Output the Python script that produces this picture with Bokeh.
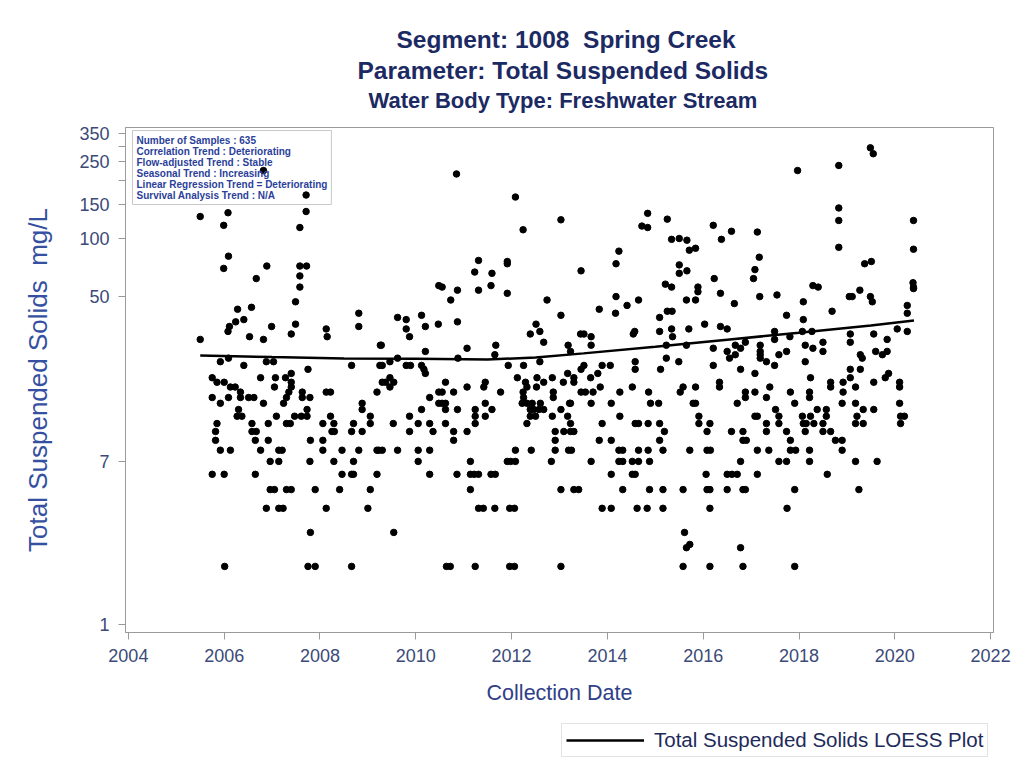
from bokeh.plotting import figure
from bokeh.layouts import column
from bokeh.models import Range1d, FixedTicker, PrintfTickFormatter, Label, Legend, LegendItem, Title
from bokeh.embed import file_html
from bokeh.resources import INLINE

# ---- data (decimal year, mg/L) ----
tss_levels = [2, 2.5, 2.6, 3, 4, 5, 6, 7, 8, 9, 10, 11, 12, 13, 14, 15, 16, 17, 18, 19, 20,
              21, 22, 23, 24, 25, 26, 27, 28, 29, 30, 31, 32, 33, 34, 35, 36, 37, 38, 39, 40,
              41, 42, 43, 44, 45, 46, 47, 48, 50, 51, 52, 53, 54, 55, 56, 57, 58, 59, 62, 64,
              66, 67, 68, 69, 70, 72, 73, 74, 76, 77, 80, 81, 86, 87, 88, 89, 90, 98, 99, 100,
              108, 109, 111, 114, 116, 117, 124, 125, 126, 130, 135, 136, 138, 144, 164, 168,
              216, 225, 239, 275, 295]

years_by_level = [
    [2006.01, 2007.75, 2007.90, 2008.66, 2010.64, 2010.72, 2011.24, 2011.96, 2012.06, 2013.03, 2015.58, 2016.14, 2016.83, 2017.91],
    [2015.65, 2016.78],
    [2015.72],
    [2007.80, 2009.54, 2015.61],
    [2006.88, 2007.14, 2007.23, 2008.13, 2009.00, 2011.31, 2011.41, 2011.65, 2011.96, 2012.06, 2013.89, 2014.08, 2014.62, 2014.83, 2015.16, 2016.14, 2017.75],
    [2006.96, 2007.05, 2007.30, 2007.40, 2007.90, 2008.41, 2009.05, 2011.14, 2013.03, 2013.30, 2013.40, 2014.32, 2014.88, 2015.16, 2015.58, 2016.08, 2016.14, 2016.50, 2016.83, 2016.88, 2017.91, 2019.25],
    [2005.75, 2006.00, 2006.65, 2008.46, 2008.66, 2008.70, 2009.19, 2010.29, 2010.86, 2011.14, 2011.22, 2011.31, 2011.57, 2011.66, 2014.08, 2014.52, 2014.58, 2016.06, 2016.50, 2016.60, 2016.71, 2017.13, 2018.59],
    [2006.96, 2007.14, 2007.79, 2008.29, 2008.70, 2010.05, 2011.14, 2011.91, 2011.98, 2012.08, 2012.83, 2013.66, 2014.24, 2014.32, 2014.52, 2014.65, 2014.88, 2016.78, 2017.58, 2017.74, 2018.22, 2019.18, 2019.63],
    [2005.92, 2006.13, 2006.76, 2007.14, 2007.21, 2008.06, 2008.46, 2008.81, 2009.19, 2009.23, 2009.30, 2009.62, 2010.05, 2010.29, 2012.08, 2012.41, 2012.91, 2013.19, 2013.25, 2014.24, 2014.32, 2014.65, 2014.85, 2015.16, 2015.72, 2016.08, 2016.15, 2017.13, 2017.37, 2017.82, 2017.93, 2018.22, 2018.90],
    [2005.82, 2006.65, 2006.92, 2007.80, 2008.06, 2010.79, 2012.91, 2013.83, 2014.08, 2015.09, 2016.83, 2016.90, 2017.82, 2018.76, 2018.90],
    [2005.82, 2006.58, 2006.67, 2008.25, 2008.30, 2008.66, 2008.88, 2009.87, 2010.36, 2010.79, 2011.07, 2012.91, 2013.09, 2013.23, 2013.30, 2015.19, 2016.08, 2016.59, 2016.83, 2017.32, 2017.74, 2018.13, 2018.50, 2018.66],
    [2005.85, 2006.58, 2006.92, 2007.30, 2007.38, 2008.06, 2008.29, 2008.70, 2009.05, 2009.53, 2010.05, 2010.29, 2010.62, 2011.24, 2012.32, 2013.23, 2013.89, 2014.58, 2014.65, 2014.85, 2015.09, 2015.91, 2016.14, 2017.32, 2017.58, 2018.09, 2018.15, 2018.31, 2018.50, 2019.18, 2019.34, 2020.12],
    [2006.27, 2006.37, 2007.09, 2007.47, 2007.61, 2007.73, 2008.22, 2009.05, 2009.87, 2011.24, 2011.45, 2012.39, 2012.50, 2012.85, 2013.17, 2014.26, 2015.91, 2017.08, 2017.13, 2017.58, 2018.07, 2018.24, 2018.57, 2019.21, 2020.12, 2020.20],
    [2006.30, 2007.73, 2008.88, 2010.12, 2010.62, 2010.87, 2011.24, 2011.59, 2012.39, 2012.46, 2012.57, 2012.67, 2013.03, 2017.51, 2018.38, 2018.57, 2019.34, 2019.56],
    [2005.92, 2006.82, 2007.24, 2008.88, 2010.48, 2010.55, 2010.62, 2011.45, 2012.22, 2012.32, 2012.43, 2012.60, 2013.21, 2013.23, 2013.66, 2014.08, 2014.90, 2015.07, 2015.79, 2015.84, 2016.71, 2017.91, 2018.90, 2019.18, 2020.10],
    [2005.75, 2006.09, 2006.34, 2006.51, 2006.62, 2007.30, 2007.63, 2007.79, 2010.29, 2012.25, 2012.87, 2016.88, 2017.32, 2018.22],
    [2006.34, 2007.35, 2007.63, 2008.13, 2008.22, 2009.19, 2010.48, 2010.55, 2010.79, 2011.77, 2012.24, 2012.87, 2013.45, 2013.54, 2013.70, 2014.26, 2014.86, 2015.52, 2016.88, 2017.08, 2017.82, 2018.22, 2018.92],
    [2006.13, 2006.23, 2007.05, 2007.40, 2009.46, 2011.07, 2011.42, 2012.32, 2012.52, 2013.85, 2014.52, 2015.58, 2015.84, 2016.34, 2017.39, 2018.66, 2019.18, 2020.10],
    [2005.85, 2006.00, 2007.40, 2009.30, 2009.37, 2009.54, 2010.62, 2011.45, 2012.29, 2012.67, 2013.08, 2013.30, 2016.34, 2018.66, 2018.92, 2019.56, 2020.10],
    [2005.75, 2006.76, 2007.07, 2007.28, 2009.46, 2012.12, 2012.53, 2012.85, 2013.30, 2013.65, 2018.24, 2019.07, 2019.80],
    [2007.40, 2010.20, 2013.17, 2013.80, 2017.08, 2019.87],
    [2007.75, 2010.17, 2013.45, 2014.58, 2015.11, 2016.78, 2019.07, 2019.28],
    [2006.41, 2008.66, 2009.25, 2009.30, 2009.80, 2009.89, 2010.12, 2011.93, 2012.25, 2013.51, 2013.89, 2014.06, 2016.21, 2017.49],
    [2005.92, 2006.88, 2007.03, 2009.46, 2012.59, 2014.58, 2015.49, 2017.32, 2018.13],
    [2006.09, 2009.62, 2010.88, 2015.23, 2016.55, 2017.19, 2019.32],
    [2011.65, 2016.67, 2017.19, 2017.58, 2019.28, 2019.74],
    [2010.20, 2013.23, 2016.50, 2017.19, 2017.74, 2018.50, 2019.60, 2019.84],
    [2011.07, 2016.21, 2016.78, 2018.29],
    [2009.26, 2009.28, 2011.67, 2013.18, 2013.66, 2015.23, 2015.65, 2016.67, 2017.19, 2018.13],
    [2012.67, 2016.88, 2018.50, 2019.07],
    [2005.50, 2006.82, 2017.49, 2019.84],
    [2006.53, 2008.15, 2009.87, 2013.66, 2015.36, 2017.81],
    [2007.40, 2012.39, 2013.44, 2013.51, 2014.54, 2019.07, 2019.56],
    [2006.08, 2012.59, 2014.57, 2015.09, 2017.49, 2018.07, 2018.27, 2020.26],
    [2008.13, 2009.80, 2015.34, 2015.70, 2016.50, 2020.05],
    [2006.11, 2006.99, 2008.81, 2010.20, 2016.36],
    [2007.49, 2010.47, 2012.51, 2016.03],
    [2006.24, 2010.87],
    [2006.41, 2009.80, 2018.09],
    [2009.62, 2015.09],
    [2010.12, 2013.03, 2017.74],
    [2008.81, 2014.17, 2020.26],
    [2015.25, 2015.35, 2018.69],
    [2006.28, 2013.83],
    [2006.57],
    [2014.41, 2020.26],
    [2016.65],
    [2007.49, 2018.09, 2019.53],
    [2010.73, 2012.74, 2014.65, 2015.65, 2015.84],
    [2014.18, 2017.18, 2019.05, 2019.11, 2019.49],
    [2017.54],
    [2011.91, 2016.36],
    [2015.89],
    [2010.87, 2011.31, 2019.27],
    [2020.39],
    [2007.58, 2010.55, 2015.34, 2015.89, 2018.40, 2020.39],
    [2010.48, 2011.57, 2018.29],
    [2015.21],
    [2020.38],
    [2006.67, 2016.23, 2017.05],
    [2007.58],
    [2011.59, 2015.50],
    [2011.23],
    [2013.45, 2015.66],
    [2017.08],
    [2005.99],
    [2006.89, 2007.58, 2007.72],
    [2015.50],
    [2011.91, 2014.18, 2019.37],
    [2011.91, 2019.51],
    [2011.31],
    [2017.17],
    [2006.09],
    [2014.24],
    [2015.71],
    [2020.39],
    [2015.84],
    [2018.83],
    [2015.66],
    [2015.34, 2016.38],
    [2015.50],
    [2017.13],
    [2016.59],
    [2012.24],
    [2007.58, 2014.84],
    [2014.72],
    [2005.99, 2016.21],
    [2018.83, 2020.39],
    [2013.03],
    [2015.25],
    [2005.50],
    [2014.84],
    [2006.08],
    [2007.71],
    [2018.83],
    [2012.08],
    [2007.71],
    [2010.85],
    [2006.82, 2017.97],
    [2018.83],
    [2019.55],
    [2019.49],
]

loess_year = [2005.5, 2007.0, 2008.5, 2010.0, 2011.5, 2012.5, 2013.5, 2015.0, 2016.5, 2018.0, 2019.5, 2020.4]
loess_tss = [24.8, 24.3, 23.9, 23.8, 23.6, 24.2, 25.4, 27.5, 29.9, 32.5, 35.4, 37.6]

x_ticks = [2004, 2006, 2008, 2010, 2012, 2014, 2016, 2018, 2020, 2022]
y_ticks = [1, 7, 50, 100, 150, 200, 250, 300, 350]
y_tick_labels = ["1", "7", "50", "100", "150", "", "250", "", "350"]

NBSP = "\u00a0"
titles = ["Segment: 1008" + NBSP + " Spring Creek",
          "Parameter: Total Suspended Solids",
          "Water Body Type: Freshwater Stream"]
info_lines = ["Number of Samples : 635",
              "Correlation Trend : Deteriorating",
              "Flow-adjusted Trend : Stable",
              "Seasonal Trend : Increasing",
              "Linear Regression Trend = Deteriorating",
              "Survival Analysis Trend : N/A"]
legend_label = "Total Suspended Solids LOESS Plot"

sample_year = []
sample_tss = []
for lvl, yrs in zip(tss_levels, years_by_level):
    for yr in yrs:
        sample_year.append(yr)
        sample_tss.append(lvl)

FONT = "Liberation Sans"
NAVY = "#1c2a63"
AXIS_GRAY = "#9a9a9a"

p = figure(width=1018, height=712,
           x_range=Range1d(2003.94, 2022.06), y_range=Range1d(0.909, 376),
           y_axis_type="log", output_backend="svg", toolbar_location=None,
           min_border_left=125, min_border_right=25, min_border_top=127, min_border_bottom=80)
p.xgrid.visible = False
p.ygrid.visible = False
p.outline_line_color = AXIS_GRAY
p.background_fill_color = "white"
p.border_fill_color = "white"

p.scatter(sample_year, sample_tss, size=6.5, color="black")
p.line(loess_year, loess_tss, line_width=2.5, color="black")

# axes
p.xaxis.ticker = FixedTicker(ticks=x_ticks, minor_ticks=[])
p.xaxis.formatter = PrintfTickFormatter(format="%d")
p.yaxis.ticker = FixedTicker(ticks=y_ticks, minor_ticks=[])
p.yaxis.formatter = PrintfTickFormatter(format="%d")
p.yaxis.major_label_overrides = {t: lab for t, lab in zip(y_ticks, y_tick_labels)}

for ax in (p.xaxis[0], p.yaxis[0]):
    ax.axis_line_color = AXIS_GRAY
    ax.major_tick_line_color = AXIS_GRAY
    ax.major_tick_out = 7
    ax.major_tick_in = 0
    ax.minor_tick_line_color = None
    ax.major_label_text_font = FONT
    ax.major_label_text_font_size = "18px"
    ax.major_label_text_color = "#3b4a78"
    ax.axis_label_text_font_style = "normal"

p.xaxis.axis_label = "Collection Date"
p.xaxis.axis_label_text_font = FONT
p.xaxis.axis_label_text_font_size = "21.5px"
p.xaxis.axis_label_text_color = "#2f4088"
p.xaxis.major_label_standoff = 9
p.xaxis.axis_label_standoff = 16

p.yaxis.axis_label = "Total Suspended Solids" + NBSP + " mg/L"
p.yaxis.axis_label_text_font = FONT
p.yaxis.axis_label_text_font_size = "26px"
p.yaxis.axis_label_text_color = "#3550a0"
p.yaxis.major_label_standoff = 9
p.yaxis.axis_label_standoff = 23

# titles, stacked above the frame (added from nearest to farthest)
title_specs = [("24.5px", 31, 271), ("24.5px", -27, 232), ("22px", 30, 243)]
for txt, (fs, so, off) in reversed(list(zip(titles, title_specs))):
    p.add_layout(Title(text=txt, align="left", offset=off, standoff=so,
                       text_font=FONT, text_font_size=fs, text_font_style="bold",
                       text_color=NAVY), "above")

# info box
p.add_layout(Label(x=7, y=502, x_units="screen", y_units="screen",
                   text="\n".join(info_lines), text_align="left", text_baseline="top",
                   text_font=FONT, text_font_size="10px", text_font_style="bold",
                   text_color="#2b3f9a", text_line_height=1.0,
                   border_line_color="#c8c8c8", padding=4))

# legend strip below the chart (its frame is aligned with the chart's frame)
lf = figure(width=1018, height=50, x_range=Range1d(0, 1), y_range=Range1d(0, 1),
            output_backend="svg", toolbar_location=None,
            x_axis_location=None, y_axis_location=None, min_border=0)
lf.grid.visible = False
lf.outline_line_color = None
lf.background_fill_color = "white"
lf.border_fill_color = "white"
# same LOESS series; it falls outside this strip's 0..1 range, only its legend key shows
key_r = lf.line(loess_year, loess_tss, line_width=2.5, color="black")
legend = Legend(items=[LegendItem(label=legend_label, renderers=[key_r])],
                location=(436, 5), orientation="horizontal",
                glyph_width=78, glyph_height=22, label_standoff=10, padding=4, margin=0,
                label_text_font=FONT, label_text_font_size="20.5px", label_text_color="#1e2a5a",
                border_line_color="#c8c8c8", background_fill_alpha=1.0)
lf.add_layout(legend)

layout = column(p, lf, spacing=0)
open("out.html", "w").write(file_html(layout, INLINE))
